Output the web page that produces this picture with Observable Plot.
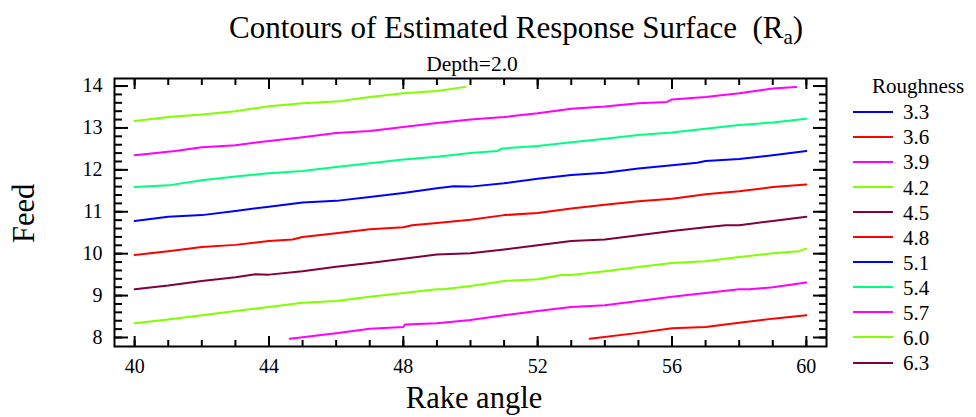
<!DOCTYPE html>
<html>
<head>
<meta charset="utf-8">
<script src="https://cdn.jsdelivr.net/npm/d3@7"></script>
<script src="https://cdn.jsdelivr.net/npm/@observablehq/plot@0.6"></script>
<style>
  html, body { margin: 0; padding: 0; background: #fff; }
  #wrap { position: relative; width: 976px; height: 417px; font-family: "Liberation Serif", "Times New Roman", serif; color: #000; overflow: hidden; }
  #wrap svg { position: absolute; left: 0; top: 0; }
  #wrap svg text { font-family: "Liberation Serif", "Times New Roman", serif; }
  .t { position: absolute; white-space: pre; line-height: 1; font-family: "Liberation Serif", "Times New Roman", serif; }
</style>
</head>
<body>
<div id="wrap"></div>
<script>
// ---- data ----
const legendLevels = ["3.3", "3.6", "3.9", "4.2", "4.5", "4.8", "5.1", "5.4", "5.7", "6.0", "6.3"];
const legendColors = ["#0000ff", "#ff0000", "#ff00ff", "#80ff00", "#800040", "#ff0000", "#0000ff", "#00ff80", "#ff00ff", "#80ff00", "#800040"];

const rake36 = [53.55, 55, 56, 57, 58, 59, 60];
const feed36 = [7.97, 8.11, 8.22, 8.25, 8.35, 8.45, 8.53];

const rake39 = [44.62, 46, 47, 48, 48.05, 49, 50, 51, 52, 53, 54, 55, 56, 57, 58, 58.3, 59, 60];
const feed39 = [7.97, 8.10, 8.21, 8.25, 8.31, 8.34, 8.42, 8.53, 8.63, 8.73, 8.77, 8.87, 8.97, 9.06, 9.15, 9.15, 9.20, 9.31];

const rake42 = [40, 41, 42, 43, 44, 45, 46, 47, 48, 49, 49.2, 50, 51, 52, 52.7, 53, 54, 55, 56, 57, 58, 59, 59.77, 60];
const feed42 = [8.34, 8.43, 8.53, 8.63, 8.73, 8.83, 8.87, 8.97, 9.06, 9.15, 9.15, 9.23, 9.35, 9.39, 9.49, 9.49, 9.58, 9.68, 9.78, 9.82, 9.92, 10.01, 10.06, 10.12];

const rake45 = [40, 41, 42, 43, 43.6, 44, 45, 46, 47, 48, 49, 50, 51, 52, 53, 54, 55, 56, 57, 57.6, 58, 59, 60];
const feed45 = [9.15, 9.24, 9.35, 9.44, 9.51, 9.50, 9.58, 9.69, 9.78, 9.88, 9.98, 10.01, 10.10, 10.20, 10.30, 10.34, 10.44, 10.54, 10.63, 10.68, 10.68, 10.78, 10.88];

const rake48 = [40, 41, 42, 43, 44, 44.7, 45, 46, 47, 48, 48.26, 49, 50, 51, 52, 53, 54, 55, 56, 57, 58, 59, 60];
const feed48 = [9.97, 10.06, 10.16, 10.21, 10.30, 10.34, 10.40, 10.49, 10.58, 10.63, 10.68, 10.73, 10.81, 10.92, 10.97, 11.08, 11.17, 11.25, 11.31, 11.42, 11.49, 11.59, 11.65];

const rake51 = [40, 41, 42, 43, 44, 45, 46, 47, 48, 49, 49.5, 50, 51, 52, 53, 54, 55, 56, 56.75, 57, 58, 59, 60];
const feed51 = [10.78, 10.88, 10.92, 11.02, 11.12, 11.22, 11.26, 11.35, 11.45, 11.56, 11.61, 11.60, 11.68, 11.79, 11.88, 11.93, 12.03, 12.11, 12.17, 12.21, 12.26, 12.35, 12.45];

const rake54 = [40, 41, 42, 43, 44, 45, 46, 47, 48, 49, 50, 50.8, 50.95, 52, 53, 54, 55, 56, 57, 58, 59, 60];
const feed54 = [11.59, 11.63, 11.75, 11.84, 11.92, 11.97, 12.07, 12.16, 12.25, 12.31, 12.40, 12.45, 12.51, 12.57, 12.66, 12.74, 12.83, 12.89, 12.98, 13.07, 13.13, 13.22];

const rake57 = [40, 41.2, 42, 43, 44, 45, 46, 47, 48, 49, 50, 51, 52, 53, 54, 55, 55.85, 56, 57, 58, 59, 59.7];
const feed57 = [12.35, 12.45, 12.54, 12.59, 12.69, 12.78, 12.88, 12.93, 13.02, 13.12, 13.20, 13.26, 13.35, 13.46, 13.51, 13.59, 13.62, 13.68, 13.74, 13.83, 13.94, 13.98];

const rake60 = [40, 41, 42, 43, 44, 45, 46.1, 47, 48, 49, 49.85];
const feed60 = [13.165, 13.26, 13.32, 13.40, 13.52, 13.59, 13.64, 13.74, 13.83, 13.88, 13.98];

const xMajorTicks = [40, 44, 48, 52, 56, 60];
const yMajorTicks = [8, 9, 10, 11, 12, 13, 14];

// ---- build table ----
const series = [
  ["3.6", rake36, feed36], ["3.9", rake39, feed39], ["4.2", rake42, feed42],
  ["4.5", rake45, feed45], ["4.8", rake48, feed48], ["5.1", rake51, feed51],
  ["5.4", rake54, feed54], ["5.7", rake57, feed57], ["6.0", rake60, feed60]
];
const colorOf = Object.fromEntries(legendLevels.map((l, i) => [l, legendColors[i]]));
const rows = series.flatMap(([lvl, xs, ys]) => xs.map((x, i) => ({level: lvl, rake: x, feed: ys[i], color: colorOf[lvl]})));

const xMinor = d3.range(40, 61, 1);
const yMinor = d3.range(40, 71).map(i => i / 5);
const serif = "'Liberation Serif', 'Times New Roman', serif";
const intFmt = d => String(Math.round(d));

const chart = Plot.plot({
  width: 976,
  height: 417,
  marginLeft: 114,
  marginRight: 150,
  marginTop: 78,
  marginBottom: 71,
  style: {fontFamily: serif, fontSize: "20px", color: "#000", background: "transparent", overflow: "visible"},
  x: {domain: [39.4, 60.6]},
  y: {domain: [7.785, 14.18]},
  marks: [
    Plot.line(rows, {x: "rake", y: "feed", z: "level", stroke: "color", strokeWidth: 2}),
    // inward tick marks on all sides
    Plot.axisX({anchor: "bottom", ticks: xMinor, tickSize: -6, strokeWidth: 2, tickFormat: () => "", label: null}),
    Plot.axisX({anchor: "bottom", ticks: xMajorTicks, tickSize: -10, strokeWidth: 2, tickFormat: () => "", label: null}),
    Plot.axisX({anchor: "top", ticks: xMinor, tickSize: -6, strokeWidth: 2, tickFormat: () => "", label: null}),
    Plot.axisX({anchor: "top", ticks: xMajorTicks, tickSize: -10, strokeWidth: 2, tickFormat: () => "", label: null}),
    Plot.axisY({anchor: "left", ticks: yMinor, tickSize: -8, strokeWidth: 2, tickFormat: () => "", label: null}),
    Plot.axisY({anchor: "left", ticks: yMajorTicks, tickSize: -14, strokeWidth: 2, tickFormat: () => "", label: null}),
    Plot.axisY({anchor: "right", ticks: yMinor, tickSize: -8, strokeWidth: 2, tickFormat: () => "", label: null}),
    Plot.axisY({anchor: "right", ticks: yMajorTicks, tickSize: -14, strokeWidth: 2, tickFormat: () => "", label: null}),
    // tick labels
    Plot.axisX({anchor: "bottom", ticks: xMajorTicks, tickSize: 0, tickPadding: 12, label: null, fontSize: 20, fontFamily: serif, tickFormat: intFmt}),
    Plot.axisY({anchor: "left", ticks: yMajorTicks, tickSize: 0, tickPadding: 12, label: null, fontSize: 20, fontFamily: serif, tickFormat: intFmt}),
    Plot.frame({stroke: "#000", strokeWidth: 2})
  ]
});

const wrap = document.getElementById("wrap");
wrap.appendChild(chart);

function addText(html, css) {
  const d = document.createElement("div");
  d.className = "t";
  d.innerHTML = html;
  Object.assign(d.style, css);
  wrap.appendChild(d);
  return d;
}

// title
addText('Contours of Estimated Response Surface  (R<span style="font-size:0.68em;position:relative;top:0.28em">a</span>)',
  {left: "229px", top: "12px", fontSize: "31px"});
// subtitle
addText("Depth=2.0", {left: "0px", width: "944px", textAlign: "center", top: "53.5px", fontSize: "21.5px"});
// x axis title
addText("Rake angle", {left: "0px", width: "948px", textAlign: "center", top: "382.5px", fontSize: "30.5px"});
// y axis title (rotated)
const fy = addText("Feed", {left: "0px", top: "0px", fontSize: "30.5px"});
fy.style.transformOrigin = "0 0";
fy.style.transform = "translate(9px, 243px) rotate(-90deg)";

// legend
addText("Roughness", {left: "872px", top: "75.5px", fontSize: "21px"});
legendLevels.forEach((lvl, i) => {
  const yLine = 111.5 + i * 25.1;
  const ln = document.createElement("div");
  Object.assign(ln.style, {position: "absolute", left: "853px", top: (yLine - 1) + "px", width: "40px", height: "2px", background: legendColors[i]});
  wrap.appendChild(ln);
  addText(lvl, {left: "903px", top: (yLine + 8.3 - 0.8375 * 21) + "px", fontSize: "21px"});
});
</script>
</body>
</html>
